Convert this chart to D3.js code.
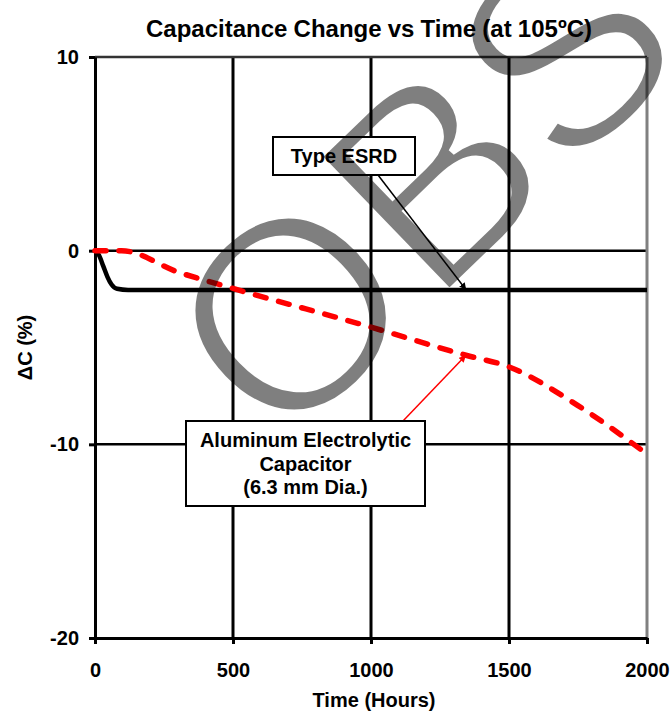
<!DOCTYPE html>
<html>
<head>
<meta charset="utf-8">
<script src="https://cdn.jsdelivr.net/npm/d3@7"></script>
<style>
  html, body { margin: 0; padding: 0; background: #fff; }
  svg { display: block; font-family: "Liberation Sans", Arial, sans-serif; }
</style>
</head>
<body>
<svg id="chart" width="672" height="713"></svg>
<script>
// hours vs capacitance change (%)
const esrdHours = [0, 15, 30, 45, 60, 80, 120, 2000];
const esrdDelta = [0, -0.25, -0.8, -1.35, -1.75, -1.97, -2.03, -2.03];
const alumHours = [0, 96, 300, 500, 1000, 1344, 1500, 1750, 2000];
const alumDelta = [0, 0, -1.1, -1.95, -3.95, -5.4, -6.0, -8.0, -10.5];

const xTicks = [0, 500, 1000, 1500, 2000];
const yTicks = [-20, -10, 0, 10];

const title = 'Capacitance Change vs Time (at 105ºC)';
const xTitle = 'Time (Hours)';
const yTitle = 'ΔC (%)';
const esrdLabel = ['Type ESRD'];
const alumLabel = ['Aluminum Electrolytic', 'Capacitor', '(6.3 mm Dia.)'];
const stamp = 'OBS';

const svg = d3.select('#chart');

const x = d3.scaleLinear().domain([0, 2000]).range([95, 647]);
const y = d3.scaleLinear().domain([-20, 10]).range([638, 57]);

const toPoints = (hours, delta) => hours.map((h, i) => ({ h, v: delta[i] }));

const defs = svg.append('defs');
const addArrow = (id, color) => {
  defs.append('marker')
    .attr('id', id)
    .attr('viewBox', '0 0 10 10')
    .attr('refX', 10)
    .attr('refY', 5)
    .attr('markerWidth', 7)
    .attr('markerHeight', 7)
    .attr('markerUnits', 'userSpaceOnUse')
    .attr('orient', 'auto')
    .append('path')
    .attr('d', 'M0,0L10,5L0,10z')
    .attr('fill', color);
};
addArrow('arrow-black', '#000');
addArrow('arrow-red', '#f00');

// grid
const grid = svg.append('g');
grid.selectAll('line.v')
  .data([500, 1000, 1500])
  .join('line')
  .attr('x1', (d) => x(d))
  .attr('x2', (d) => x(d))
  .attr('y1', y(10))
  .attr('y2', y(-20))
  .attr('stroke', '#000')
  .attr('stroke-width', 3);
grid.selectAll('line.h')
  .data([0, -10])
  .join('line')
  .attr('x1', x(0))
  .attr('x2', x(2000))
  .attr('y1', (d) => y(d))
  .attr('y2', (d) => y(d))
  .attr('stroke', '#000')
  .attr('stroke-width', 2.5);
grid.append('line')
  .attr('x1', x(0)).attr('x2', x(2000))
  .attr('y1', y(10)).attr('y2', y(10))
  .attr('stroke', '#333').attr('stroke-width', 2.5);
grid.append('line')
  .attr('x1', x(2000)).attr('x2', x(2000))
  .attr('y1', y(10)).attr('y2', y(-20))
  .attr('stroke', '#808080').attr('stroke-width', 3);

// axes
const styleAxis = (g) => {
  g.select('.domain').attr('stroke', '#000').attr('stroke-width', 3);
  g.selectAll('.tick line').attr('stroke', '#000').attr('stroke-width', 3);
  g.selectAll('.tick text')
    .attr('fill', '#000')
    .attr('font-size', 20)
    .attr('font-weight', 'bold')
    .attr('font-family', '"Liberation Sans", Arial, sans-serif');
};

svg.append('g')
  .attr('transform', `translate(0,${y(-20)})`)
  .call(d3.axisBottom(x)
    .tickValues(xTicks)
    .tickFormat((d) => String(d))
    .tickSize(6)
    .tickSizeOuter(0)
    .tickPadding(19))
  .call(styleAxis);

svg.append('g')
  .attr('transform', `translate(${x(0)},0)`)
  .call(d3.axisLeft(y)
    .tickValues(yTicks)
    .tickFormat((d) => String(d))
    .tickSize(6)
    .tickSizeOuter(0)
    .tickPadding(10))
  .call(styleAxis);

// series
const line = d3.line()
  .x((d) => x(d.h))
  .y((d) => y(d.v))
  .curve(d3.curveMonotoneX);

svg.append('path')
  .datum(toPoints(esrdHours, esrdDelta))
  .attr('d', line)
  .attr('fill', 'none')
  .attr('stroke', '#000')
  .attr('stroke-width', 4.5)
  .attr('stroke-linejoin', 'round');

svg.append('path')
  .datum(toPoints(alumHours, alumDelta))
  .attr('d', line)
  .attr('fill', 'none')
  .attr('stroke', '#f00')
  .attr('stroke-width', 5.5)
  .attr('stroke-linecap', 'round')
  .attr('stroke-dasharray', '11,13');

// callouts
const callout = ({ lines, left, top, width, height, lineGap, from, to, color, marker }) => {
  const g = svg.append('g');
  g.append('line')
    .attr('x1', from[0]).attr('y1', from[1])
    .attr('x2', x(to[0])).attr('y2', y(to[1]))
    .attr('stroke', color)
    .attr('stroke-width', 1.5)
    .attr('marker-end', `url(#${marker})`);
  g.append('rect')
    .attr('x', left).attr('y', top)
    .attr('width', width).attr('height', height)
    .attr('fill', '#fff')
    .attr('stroke', '#000')
    .attr('stroke-width', 2);
  const startY = top + height / 2 - ((lines.length - 1) * lineGap) / 2;
  g.selectAll('text')
    .data(lines)
    .join('text')
    .attr('x', left + width / 2)
    .attr('y', (d, i) => startY + i * lineGap)
    .attr('dy', '0.35em')
    .attr('text-anchor', 'middle')
    .attr('font-size', 20)
    .attr('font-weight', 'bold')
    .text((d) => d);
};

callout({
  lines: esrdLabel, left: 273, top: 137, width: 142, height: 38, lineGap: 0,
  from: [378, 175], to: [1345, -2.03], color: '#000', marker: 'arrow-black',
});
callout({
  lines: alumLabel, left: 186, top: 421, width: 239, height: 85, lineGap: 23.5,
  from: [403, 421], to: [1344, -5.4], color: '#f00', marker: 'arrow-red',
});

// titles
svg.append('text')
  .attr('x', 369).attr('y', 37)
  .attr('text-anchor', 'middle')
  .attr('font-size', 24)
  .attr('font-weight', 'bold')
  .attr('word-spacing', -0.5)
  .text(title);

svg.append('text')
  .attr('x', 374).attr('y', 707)
  .attr('text-anchor', 'middle')
  .attr('font-size', 20)
  .attr('font-weight', 'bold')
  .text(xTitle);

svg.append('text')
  .attr('transform', `translate(32,${(y(10) + y(-20)) / 2}) rotate(-90)`)
  .attr('text-anchor', 'middle')
  .attr('font-size', 20)
  .attr('font-weight', 'bold')
  .text(yTitle);

// watermark: glyphs thinned with a stroked mask, laid over at half opacity
const stampAt = 'translate(280,456) rotate(-44)';
const stampText = (sel) => sel
  .attr('transform', stampAt)
  .attr('font-size', 274)
  .text(stamp);

defs.append('mask')
  .attr('id', 'stamp-mask')
  .attr('maskUnits', 'userSpaceOnUse')
  .attr('x', 0).attr('y', 0)
  .attr('width', 672).attr('height', 713)
  .append('text')
  .call(stampText)
  .attr('fill', '#fff')
  .attr('stroke', '#000')
  .attr('stroke-width', 7);

svg.append('g')
  .attr('mask', 'url(#stamp-mask)')
  .append('text')
  .call(stampText)
  .attr('fill', '#000')
  .attr('fill-opacity', 0.5);
</script>
</body>
</html>
